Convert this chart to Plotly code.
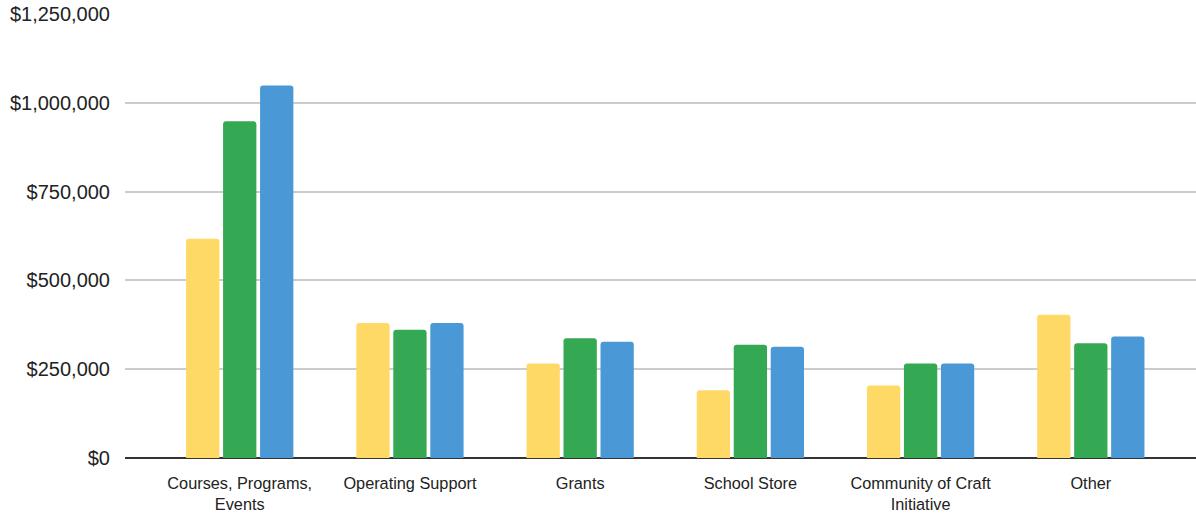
import plotly.graph_objects as go

categories = ["Courses, Programs,<br>Events", "Operating Support", "Grants",
              "School Store", "Community of Craft<br>Initiative", "Other"]
series_names = ["Year 1", "Year 2", "Year 3"]
year1 = [617000, 380000, 266000, 191000, 204000, 403000]
year2 = [948000, 361000, 337000, 319000, 266000, 323000]
year3 = [1049000, 380000, 327000, 313000, 266000, 342000]
colors = ["#FFD966", "#34A853", "#4A99D6"]
ytick_vals = [0, 250000, 500000, 750000, 1000000, 1250000]

fig = go.Figure()
for name, vals, col in zip(series_names, [year1, year2, year3], colors):
    fig.add_trace(go.Bar(x=list(range(len(categories))), y=vals, name=name,
                         marker=dict(color=col, line=dict(width=0), cornerradius=3)))

fig.update_layout(
    width=1196, height=519,
    margin=dict(l=125, r=0, t=14, b=61),
    paper_bgcolor="white", plot_bgcolor="white",
    barmode="group", bargap=0.348, bargroupgap=0.1,
    showlegend=False,
    font=dict(family="Liberation Sans, Arial, sans-serif", color="#222222"),
)
fig.update_xaxes(
    tickmode="array", tickvals=list(range(len(categories))), ticktext=categories,
    range=[-0.674, 5.618], showgrid=False, showline=False, zeroline=False,
    ticks="", tickfont=dict(size=16.3, color="#222222"), ticklabelstandoff=14,
)
fig.update_yaxes(
    range=[0, 1250000], tickvals=ytick_vals, tickformat="$,.0f",
    showgrid=True, gridcolor="#CCCCCC", gridwidth=1.5,
    zeroline=True, zerolinecolor="#333333", zerolinewidth=2,
    showline=False, ticks="", tickfont=dict(size=20, color="#222222"),
    ticklabelstandoff=14,
)

fig.write_html("out.html", config={"displayModeBar": False},
               post_script="document.body.style.margin='0px';document.body.style.overflow='hidden';")
